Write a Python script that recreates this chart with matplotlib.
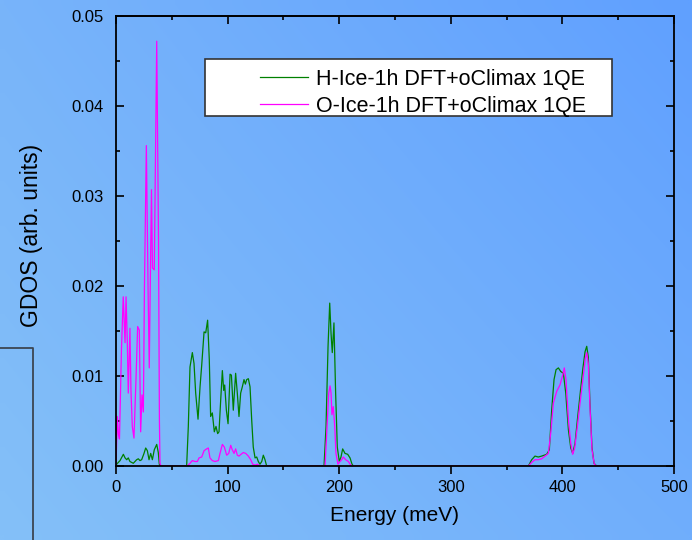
import numpy as np
import matplotlib
matplotlib.use("Agg")
import matplotlib.pyplot as plt
from matplotlib.lines import Line2D
from matplotlib.patches import Rectangle

plt.rcParams['font.family'] = ['Liberation Sans', 'DejaVu Sans']

# H partial GDOS (green)
energy_h = [0, 0.6, 3.6, 6.6, 8.1, 9.6, 11.0, 12.5, 14.0, 15.5, 18.5, 20.0, 21.5, 23.0, 25.1,
            26.6, 28.1, 29.6, 31.1, 32.6, 34.3, 36.5, 37.9, 38.8, 39.4,
            63.3, 64.8, 66.3, 68.4, 69.9, 71.4, 73.5, 75.3, 76.8, 78.9, 80.4, 82.1, 83.6, 84.8,
            86.3, 88.1, 89.6, 91.1, 92.3, 93.8, 95.3, 96.5, 97.4, 98.9, 100.4, 102.2, 103.4,
            105.1, 107.2, 108.7, 110.2, 111.7, 113.2, 114.7, 115.9, 117.1, 118.6, 120.1, 121.6,
            123.0, 124.6, 126.1, 127.5, 129.0, 130.6, 132.0, 133.5, 135.0,
            186.4, 188.2, 190.0, 191.5, 192.7, 193.8, 195.3, 196.8, 198.3, 200.1, 201.6, 203.1,
            205.2, 207.6, 209.7, 211.5, 212.7,
            369.5, 372.5, 375.4, 378.4, 381.4, 385.9, 388.3, 390.4, 392.5, 394.3, 396.4, 398.5,
            400.9, 403.0, 405.4, 407.5, 409.2, 411.3, 413.4, 415.8, 418.2, 420.3, 421.8, 423.2,
            424.7, 426.5, 428.3, 430.7, 450]
gdos_h = [0, 0.0002, 0.0006, 0.0013, 0.0009, 0.0007, 0.0009, 0.0005, 0.0004, 0.0003, 0.0007,
          0.0008, 0.0006, 0.0007, 0.0014, 0.0020, 0.0017, 0.0007, 0.0014, 0.0007, 0.0018, 0.0024,
          0.0015, 0.0002, 0,
          0, 0.0044, 0.0110, 0.0126, 0.0114, 0.0081, 0.0052, 0.0088, 0.0112, 0.0149, 0.0148,
          0.0162, 0.0118, 0.0055, 0.0059, 0.0038, 0.0044, 0.0036, 0.0038, 0.0073, 0.0106,
          0.0084, 0.0090, 0.0062, 0.0047, 0.0102, 0.0101, 0.0062, 0.0103, 0.0081, 0.0055,
          0.0081, 0.0088, 0.0096, 0.0091, 0.0096, 0.0097, 0.0088, 0.0051, 0.0021, 0.0009,
          0.0010, 0.0005, 0.0002, 0.0005, 0.0012, 0.0007, 0,
          0, 0.0044, 0.0133, 0.0181, 0.0147, 0.0126, 0.0159, 0.0081, 0.0021, 0.0005, 0.0010,
          0.0019, 0.0014, 0.0013, 0.0009, 0.0002, 0,
          0, 0.0007, 0.0011, 0.0010, 0.0011, 0.0013, 0.0018, 0.0062, 0.0096, 0.0107, 0.0109,
          0.0105, 0.0103, 0.0081, 0.0040, 0.0020, 0.0014, 0.0025, 0.0051, 0.0079, 0.0107,
          0.0127, 0.0133, 0.0121, 0.0070, 0.0021, 0.0003, 0, 0]

# O partial GDOS (magenta)
energy_o = [0, 1.2, 2.2, 3.1, 4.9, 6.5, 8.1, 9.0, 10.1, 11.0, 12.5, 13.4, 14.6, 16.1, 17.9,
            19.4, 20.9, 22.1, 23.3, 24.5, 25.5, 27.2, 28.7, 29.8, 30.7, 31.8, 32.7, 34.3, 36.5,
            38.1, 38.9, 39.4, 40.3,
            63.7, 66.3, 68.4, 70.8, 72.9, 74.4, 76.8, 78.9, 81.2, 82.7, 84.2, 86.3, 88.7, 91.7,
            93.2, 95.3, 97.1, 99.2, 101.0, 102.8, 104.2, 105.8, 107.2, 108.7, 110.2, 112.0,
            114.1, 116.2, 118.6, 120.7, 122.5, 124.6, 126.7, 129.0,
            187.3, 188.8, 190.6, 191.8, 192.7, 193.5, 194.7, 196.0, 197.1, 198.9, 200.7, 202.2,
            203.7, 205.8, 208.2, 210.3, 212.1,
            369.5, 372.5, 375.4, 378.4, 381.4, 384.4, 387.4, 389.5, 391.9, 394.9, 397.8, 400.3,
            401.7, 403.2, 405.4, 407.5, 409.2, 411.0, 413.4, 415.8, 418.8, 420.6, 421.8, 423.2,
            424.7, 426.5, 428.6, 430.7, 450]
gdos_o = [0, 0.0055, 0.0035, 0.0030, 0.0130, 0.0188, 0.0137, 0.0188, 0.0140, 0.0081, 0.0153,
          0.0084, 0.0044, 0.0031, 0.0096, 0.0155, 0.0151, 0.0038, 0.0079, 0.0060, 0.0200,
          0.0356, 0.0200, 0.0109, 0.0200, 0.0307, 0.0220, 0.0218, 0.0472, 0.0250, 0.0050,
          0.0003, 0,
          0, 0.0003, 0.0006, 0.0005, 0.0005, 0.0009, 0.0010, 0.0017, 0.0019, 0.0020, 0.0009,
          0.0006, 0.0005, 0.0006, 0.0014, 0.0024, 0.0021, 0.0012, 0.0014, 0.0023, 0.0018,
          0.0014, 0.0019, 0.0012, 0.0011, 0.0013, 0.0015, 0.0014, 0.0011, 0.0007, 0.0002,
          0.0001, 0.0002, 0,
          0, 0.0036, 0.0081, 0.0089, 0.0081, 0.0057, 0.0066, 0.0044, 0.0014, 0.0002, 0.0005,
          0.0007, 0.0010, 0.0007, 0.0005, 0.0001, 0,
          0, 0.0004, 0.0007, 0.0007, 0.0008, 0.0011, 0.0014, 0.0036, 0.0070, 0.0083, 0.0090,
          0.0101, 0.0109, 0.0096, 0.0051, 0.0025, 0.0013, 0.0020, 0.0044, 0.0070, 0.0101,
          0.0120, 0.0126, 0.0114, 0.0066, 0.0018, 0.0002, 0, 0]

labels = ["H-Ice-1h DFT+oClimax 1QE", "O-Ice-1h DFT+oClimax 1QE"]
x_ticks = [0, 100, 200, 300, 400, 500]
y_ticks = [0.00, 0.01, 0.02, 0.03, 0.04, 0.05]

W, H = 692, 540
fig = plt.figure(figsize=(W / 100, H / 100), dpi=100)

# blue gradient backdrop
bg = fig.add_axes([0, 0, 1, 1], zorder=-10)
ny, nx = 60, 80
u = np.linspace(0, 1, nx)[None, :]
v = np.linspace(0, 1, ny)[:, None]  # 0 at top
tl = np.array([120, 180, 250]) / 255
tr = np.array([96, 160, 255]) / 255
bl = np.array([132, 192, 248]) / 255
br = np.array([112, 174, 252]) / 255
img = ((1 - u)[..., None] * (1 - v)[..., None] * tl + u[..., None] * (1 - v)[..., None] * tr
       + (1 - u)[..., None] * v[..., None] * bl + u[..., None] * v[..., None] * br)
bg.imshow(img, aspect='auto', extent=[0, 1, 0, 1], interpolation='bilinear')
bg.set_axis_off()

# stray frame piece at the lower left
fig.add_artist(Line2D([0, 33 / W, 33 / W], [1 - 348 / H, 1 - 348 / H, 0],
                      transform=fig.transFigure, color='#3c4652', lw=1.3))

L, R, T, B = 116, 674, 16, 466
ax = fig.add_axes([L / W, 1 - B / H, (R - L) / W, (B - T) / H])
ax.set_facecolor('none')

ax.plot(energy_h, gdos_h, color='#008000', lw=0.9, label=labels[0])
ax.plot(energy_o, gdos_o, color='#ff00ff', lw=0.9, label=labels[1])

ax.set_xlim(0, 500)
ax.set_ylim(0, 0.05)
ax.set_xticks(x_ticks)
ax.set_xticks(np.arange(50, 500, 100), minor=True)
ax.set_yticks(y_ticks)
ax.set_yticks(np.arange(0.005, 0.05, 0.01), minor=True)
ax.set_yticklabels([f"{t:.2f}" for t in y_ticks])

for s in ax.spines.values():
    s.set_linewidth(1.3)
    s.set_color('black')

ax.tick_params(axis='x', which='both', direction='out', bottom=True, top=False,
               labelsize=12, pad=4, width=1.2)
ax.tick_params(axis='y', which='both', direction='in', left=True, right=True,
               labelsize=12, pad=9, width=1.2)
ax.tick_params(which='major', length=6)
ax.tick_params(which='minor', length=3)

top = ax.secondary_xaxis('top')
top.set_xticks(x_ticks)
top.set_xticks(np.arange(50, 500, 100), minor=True)
top.tick_params(axis='x', which='both', direction='in', labeltop=False, width=1.2)
top.tick_params(which='major', length=6)
top.tick_params(which='minor', length=3)
top.spines['top'].set_linewidth(1.3)

ax.set_xlabel("Energy (meV)", fontsize=15, labelpad=8)
ax.set_ylabel("GDOS (arb. units)", fontsize=16.5)
ax.yaxis.set_label_coords(-0.131, 0.513)

# legend box
fig.add_artist(Rectangle((205 / W, 1 - 116 / H), (612 - 205) / W, (116 - 59) / H,
                         transform=fig.transFigure, facecolor='white',
                         edgecolor='#333333', lw=1.2, zorder=5))
leg = fig.legend(loc='upper left', bbox_to_anchor=(260 / W, 1 - 69 / H),
                 frameon=False, fontsize=15.5, handlelength=2.25, handletextpad=0.35,
                 labelspacing=0.28, borderpad=0, borderaxespad=0)
leg.set_zorder(6)

fig.savefig("out.png", dpi=100)
